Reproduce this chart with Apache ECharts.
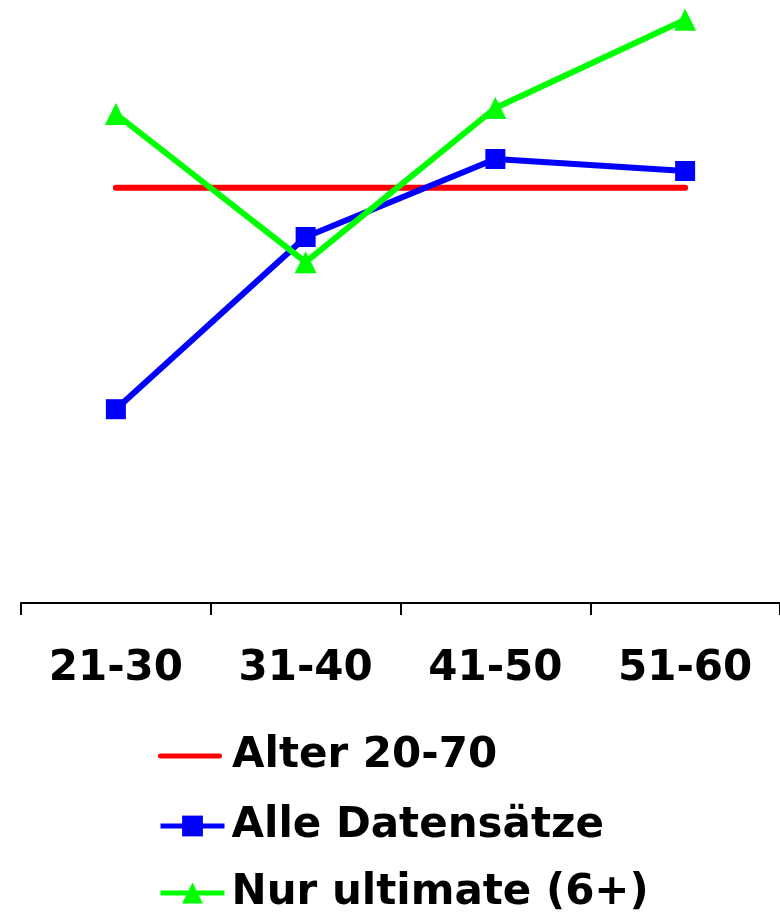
<!DOCTYPE html>
<html>
<head>
<meta charset="utf-8">
<script src="https://cdn.jsdelivr.net/npm/echarts@6/dist/echarts.min.js"></script>
<style>
html,body{margin:0;padding:0;background:#fff;}
#chart{width:780px;height:912px;}
</style>
</head>
<body>
<div id="chart"></div>
<script>
const categories = ['21-30', '31-40', '41-50', '51-60'];
const seriesNames = ['Alter 20-70', 'Alle Datensätze', 'Nur ultimate (6+)'];
const alter2070 = [69.2, 69.2, 69.2, 69.2];
const alleDatensaetze = [32.3, 61.0, 74.0, 72.0];
const nurUltimate = [81.5, 56.8, 82.5, 97.2];

const FONT = 'DejaVu Sans';
const legendTops = [735, 805, 872];
const redIcon = 'path://M2.5,0 L61.5,0 A2.5,2.5 0 0 1 61.5,5 L2.5,5 A2.5,2.5 0 0 1 2.5,0 Z';

function makeLegend(i) {
  const item = i === 0 ? {name: seriesNames[i], icon: redIcon} : {name: seriesNames[i]};
  return {
    orient: 'vertical',
    left: 158,
    top: legendTops[i],
    padding: 0,
    itemWidth: 64,
    itemHeight: 26,
    lineStyle: {width: 5},
    selectedMode: false,
    data: [item],
    textStyle: {color: '#000', fontFamily: FONT, fontWeight: 'bold', fontSize: 42, lineHeight: 42,
      padding: [0, 0, 0, i === 0 ? 5 : 2]}
  };
}

const chart = echarts.init(document.getElementById('chart'), null, {renderer: 'canvas'});
chart.setOption({
  animation: false,
  backgroundColor: '#ffffff',
  grid: {left: 21, right: -5, top: 3, bottom: 309, containLabel: false},
  xAxis: {
    type: 'category',
    data: categories,
    boundaryGap: true,
    axisLine: {show: true, lineStyle: {color: '#000', width: 2}},
    axisTick: {show: true, length: 12, lineStyle: {color: '#000', width: 2}},
    axisLabel: {
      color: '#000', fontFamily: FONT, fontWeight: 'bold', fontSize: 42,
      margin: 45, lineHeight: 42, interval: 0
    },
    splitLine: {show: false}
  },
  yAxis: {
    type: 'value', min: 0, max: 100, show: false,
    splitLine: {show: false}
  },
  legend: [makeLegend(0), makeLegend(1), makeLegend(2)],
  series: [
    {
      name: seriesNames[0], type: 'line', data: alter2070,
      symbol: 'none',
      lineStyle: {color: '#ff0000', width: 6, cap: 'round'},
      itemStyle: {color: '#ff0000'}
    },
    {
      name: seriesNames[1], type: 'line', data: alleDatensaetze,
      symbol: 'rect', symbolSize: 20, showAllSymbol: true,
      lineStyle: {color: '#0000ff', width: 6},
      itemStyle: {color: '#0000ff'}
    },
    {
      name: seriesNames[2], type: 'line', data: nurUltimate,
      symbol: 'triangle', symbolSize: 22, showAllSymbol: true,
      lineStyle: {color: '#00ff00', width: 6},
      itemStyle: {color: '#00ff00'}
    }
  ]
});
</script>
</body>
</html>
